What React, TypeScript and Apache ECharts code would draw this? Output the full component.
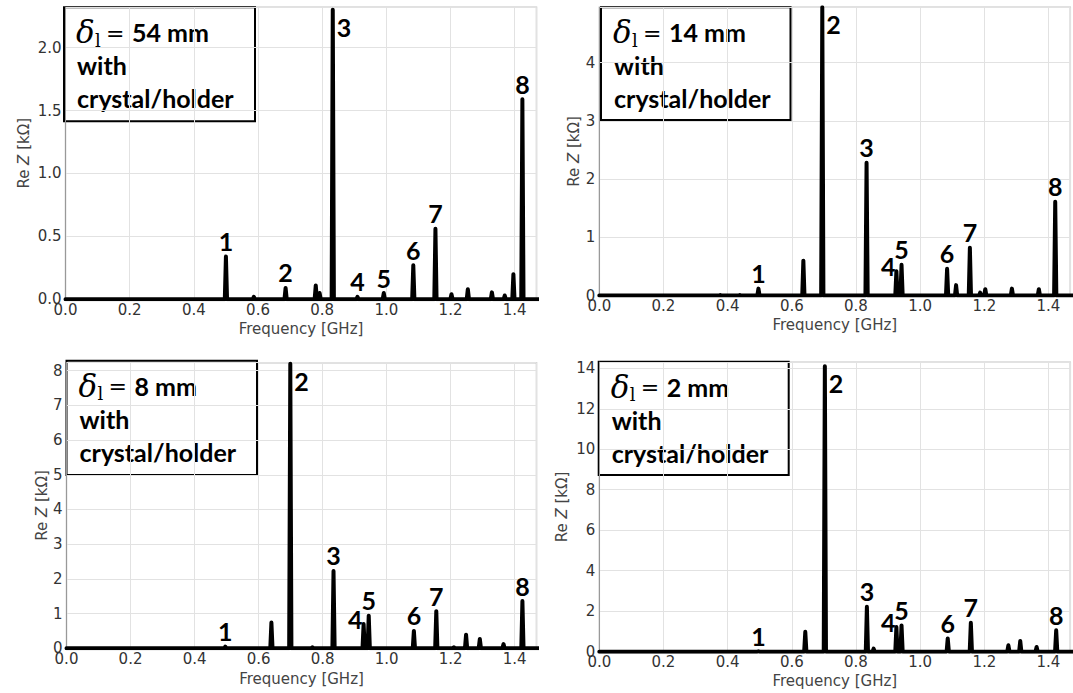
import React, { useEffect, useRef } from "react";
import * as echarts from "echarts";

// ---------- data ----------
const freqTicks = [0.0, 0.2, 0.4, 0.6, 0.8, 1.0, 1.2, 1.4];
const modeNames = ["1", "2", "3", "4", "5", "6", "7", "8"];

// delta_l = 54 mm
const peakFreqA = [0.5, 0.587, 0.686, 0.78, 0.792, 0.833, 0.91, 0.992, 1.084, 1.153, 1.203, 1.254, 1.329, 1.369, 1.396, 1.424];
const peakReZA = [0.34, 0.02, 0.09, 0.11, 0.05, 2.3, 0.02, 0.05, 0.27, 0.56, 0.04, 0.08, 0.055, 0.03, 0.2, 1.59];
const modeIdxA = [0, 2, 5, 6, 7, 8, 9, 15];

// delta_l = 14 mm
const peakFreqB = [0.377, 0.438, 0.496, 0.636, 0.695, 0.833, 0.926, 0.942, 1.084, 1.112, 1.155, 1.187, 1.203, 1.286, 1.37, 1.421];
const peakReZB = [0.01, 0.01, 0.12, 0.6, 4.95, 2.28, 0.42, 0.53, 0.46, 0.18, 0.82, 0.05, 0.11, 0.12, 0.11, 1.61];
const modeIdxB = [2, 4, 5, 6, 7, 8, 10, 15];

// delta_l = 8 mm
const peakFreqC = [0.496, 0.64, 0.699, 0.768, 0.834, 0.928, 0.944, 1.085, 1.155, 1.21, 1.248, 1.291, 1.365, 1.424];
const peakReZC = [0.05, 0.74, 8.2, 0.03, 2.23, 0.7, 0.94, 0.5, 1.07, 0.03, 0.39, 0.27, 0.12, 1.36];
const modeIdxC = [0, 2, 4, 5, 6, 7, 8, 13];

// delta_l = 2 mm
const peakFreqD = [0.496, 0.642, 0.703, 0.834, 0.855, 0.926, 0.942, 1.086, 1.158, 1.275, 1.312, 1.363, 1.424];
const peakReZD = [0.02, 0.98, 14.1, 2.22, 0.15, 1.22, 1.3, 0.65, 1.43, 0.32, 0.53, 0.23, 1.06];
const modeIdxD = [0, 2, 3, 5, 6, 7, 8, 12];

const deltaLabels = ["54 mm", "14 mm", "8 mm", "2 mm"];
const yMaxes = [2.32, 4.95, 8.23, 14.3];
const ySteps = [0.5, 1, 1, 2];
const yDecimals = [1, 0, 0, 0];

// ---------- layout ----------
const X_MAX = 1.468;
const grids = [
  { left: 65.5, top: 7.3, width: 471, height: 292 },
  { left: 599.3, top: 7.3, width: 471, height: 288.3 },
  { left: 66.5, top: 362.7, width: 470, height: 285.6 },
  { left: 599.3, top: 362.2, width: 471, height: 289.5 },
];
const yNameGaps = [34, 18, 17, 30];
const xNameGaps = [22, 22, 23, 22];
const boxes = [
  { x: 64, y: 7.3, w: 191, h: 114 },
  { x: 601, y: 7.3, w: 189.5, h: 112.7 },
  { x: 66.5, y: 360.7, w: 190.5, h: 114.3 },
  { x: 598.7, y: 361.7, w: 190, h: 113.3 },
];

const sansFont = "DejaVu Sans";
const boldFont = "Lato";

function spectrum(freqs: number[], vals: number[]) {
  const order = freqs.map((_, i) => i).sort((a, b) => freqs[a] - freqs[b]);
  const pts: number[][] = [[0, 0]];
  const hw = 0.0035;
  order.forEach((i) => {
    pts.push([freqs[i] - hw, 0], [freqs[i], vals[i]], [freqs[i] + hw, 0]);
  });
  pts.push([1.6, 0]);
  return pts;
}

function modeLabels(freqs: number[], vals: number[], idx: number[]) {
  const maxV = Math.max(...vals);
  return idx.map((i, k) => {
    const item: any = { value: [freqs[i], vals[i]], name: modeNames[k] };
    if (vals[i] === maxV) {
      item.label = { position: "right", distance: 4, offset: [0, 17] };
    } else if (k === 3 && Math.abs(freqs[idx[4]] - freqs[i]) < 0.03) {
      item.label = { position: "left", distance: 1, offset: [0, -5] };
    }
    return item;
  });
}

function legendBox(b: { x: number; y: number; w: number; h: number }, value: string) {
  const tl = 13;
  return {
    type: "group",
    x: b.x,
    y: b.y,
    z: 100,
    children: [
      {
        type: "rect",
        shape: { x: 0, y: 0, width: b.w, height: b.h },
        style: { fill: "#fff", stroke: "#000", lineWidth: 2 },
      },
      {
        type: "text",
        x: tl - 1,
        y: 25,
        style: { text: "δ", fontFamily: "DejaVu Serif", fontStyle: "italic", fontSize: 31, fill: "#000", verticalAlign: "middle", align: "left" },
      },
      {
        type: "text",
        x: tl + 18,
        y: 33,
        style: { text: "l", fontFamily: "DejaVu Serif", fontSize: 18, fill: "#000", verticalAlign: "middle", align: "left" },
      },
      {
        type: "text",
        x: tl + 29,
        y: 26,
        style: { text: "=", fontFamily: "DejaVu Serif", fontSize: 22, fill: "#000", verticalAlign: "middle", align: "left" },
      },
      {
        type: "text",
        x: tl + 55,
        y: 25,
        style: { text: value, fontFamily: boldFont, fontWeight: "bold", fontSize: 25, fill: "#000", verticalAlign: "middle", align: "left" },
      },
      {
        type: "text",
        x: tl,
        y: 58,
        style: { text: "with", fontFamily: boldFont, fontWeight: "bold", fontSize: 25, fill: "#000", verticalAlign: "middle", align: "left" },
      },
      {
        type: "text",
        x: tl,
        y: 91,
        style: { text: "crystal/holder", fontFamily: boldFont, fontWeight: "bold", fontSize: 25, fill: "#000", verticalAlign: "middle", align: "left" },
      },
    ],
  };
}

export default function App() {
  const ref = useRef<HTMLDivElement>(null);
  useEffect(() => {
    if (!ref.current) return;
    const chart = echarts.init(ref.current, null, { renderer: "svg" });
    const data = [
      [peakFreqA, peakReZA, modeIdxA],
      [peakFreqB, peakReZB, modeIdxB],
      [peakFreqC, peakReZC, modeIdxC],
      [peakFreqD, peakReZD, modeIdxD],
    ] as [number[], number[], number[]][];

    const gridOpts = grids.map((g) => ({
      ...g,
      show: true,
      borderColor: "#c4c4c4",
      borderWidth: 1.5,
      backgroundColor: "transparent",
    }));
    const xAxes = grids.map((_, i) => ({
      type: "value",
      gridIndex: i,
      min: 0,
      max: X_MAX,
      interval: 0.2,
      name: "Frequency [GHz]",
      nameLocation: "middle",
      nameGap: xNameGaps[i],
      nameTextStyle: { fontFamily: sansFont, fontSize: 15, color: "#444" },
      axisLine: { show: true, lineStyle: { color: "#999", width: 1 } },
      axisTick: { show: false },
      axisLabel: {
        fontFamily: sansFont,
        fontSize: 15,
        color: "#333",
        margin: 3,
        showMaxLabel: false,
        formatter: (v: number) => (freqTicks.some((t) => Math.abs(t - v) < 1e-6) ? v.toFixed(1) : ""),
      },
      splitLine: { show: true, lineStyle: { color: "#e2e2e2", width: 1 } },
    }));
    const yAxes = grids.map((_, i) => ({
      type: "value",
      gridIndex: i,
      min: 0,
      max: yMaxes[i],
      interval: ySteps[i],
      name: "Re {i|Z} [kΩ]",
      nameLocation: "middle",
      nameGap: yNameGaps[i],
      nameTextStyle: {
        fontFamily: sansFont,
        fontSize: 15,
        color: "#444",
        rich: { i: { fontFamily: sansFont, fontSize: 15, fontStyle: "italic", color: "#444" } },
      },
      axisLine: { show: true, lineStyle: { color: "#999", width: 1 } },
      axisTick: { show: false },
      axisLabel: {
        fontFamily: sansFont,
        fontSize: 15,
        color: "#333",
        margin: 4,
        showMaxLabel: false,
        formatter: (v: number) => v.toFixed(yDecimals[i]),
      },
      splitLine: { show: true, lineStyle: { color: "#e2e2e2", width: 1 } },
    }));
    const series: any[] = [];
    data.forEach(([f, v, idx], i) => {
      series.push({
        type: "line",
        xAxisIndex: i,
        yAxisIndex: i,
        data: spectrum(f, v),
        showSymbol: false,
        symbol: "none",
        lineStyle: { color: "#000", width: 4, join: "round", cap: "round" },
        z: 3,
      });
      series.push({
        type: "scatter",
        xAxisIndex: i,
        yAxisIndex: i,
        data: modeLabels(f, v, idx),
        symbolSize: 0,
        itemStyle: { opacity: 1, color: "#000" },
        z: 4,
        label: {
          show: true,
          position: "top",
          distance: 3,
          formatter: "{b}",
          fontFamily: boldFont,
          fontWeight: "bold",
          fontSize: 25,
          color: "#000",
          opacity: 1,
        },
      });
    });

    chart.setOption({
      animation: false,
      backgroundColor: "#fff",
      grid: gridOpts,
      xAxis: xAxes,
      yAxis: yAxes,
      series,
      graphic: boxes.map((b, i) => legendBox(b, deltaLabels[i])),
    });
    return () => chart.dispose();
  }, []);
  return (
    <div
      ref={ref}
      style={{ position: "absolute", left: 0, top: 0, width: 1073, height: 693 }}
    />
  );
}
